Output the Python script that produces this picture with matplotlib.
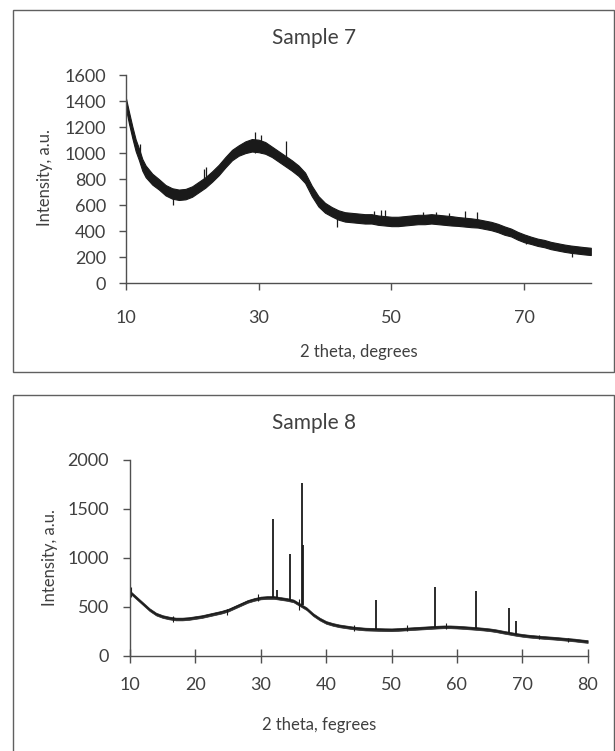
import matplotlib
matplotlib.use("Agg")
import matplotlib.pyplot as plt
from matplotlib.patches import Rectangle
import numpy as np

plt.rcParams['font.family'] = ['Lato', 'DejaVu Sans']

# ---------------- Sample 7 (amorphous pattern, noisy band) ----------------
s7_theta = [10, 10.5, 11, 11.5, 12, 12.5, 13, 14, 15, 16, 17, 18, 19, 20, 21, 22, 23, 24, 25,
            26, 27, 28, 29, 30, 31, 32, 33, 34, 35, 36, 37, 38, 39, 40, 41, 42, 43, 44,
            45, 46, 47, 48, 49, 50, 51, 52, 53, 54, 55, 56, 57, 58, 59, 60, 61, 62, 63,
            64, 65, 66, 67, 68, 69, 70, 71, 72, 73, 74, 75, 76, 77, 78, 79, 80]
s7_mid = [1390, 1270, 1160, 1060, 990, 910, 860, 800, 760, 715, 690, 680, 685, 705, 740, 775,
          820, 870, 930, 985, 1020, 1045, 1060, 1055, 1040, 1010, 975, 940, 905, 865, 810,
          710, 630, 580, 550, 525, 510, 505, 500, 495, 495, 485, 480, 475, 475, 480, 485,
          490, 490, 495, 490, 485, 480, 475, 470, 465, 460, 450, 440, 425, 405, 390, 365,
          345, 330, 315, 305, 290, 280, 270, 262, 256, 250, 245]
s7_spread = [40, 45, 45, 45, 45, 45, 45, 42, 40, 40, 40, 40, 40, 40, 40, 40, 40, 40, 40,
             40, 40, 45, 48, 48, 45, 40, 40, 40, 40, 40, 40, 40, 40, 38, 36, 36, 36, 36,
             36, 36, 36, 36, 36, 36, 36, 36, 36, 36, 36, 36, 36, 36, 36, 34, 34, 34, 32,
             32, 32, 32, 32, 30, 30, 30, 28, 28, 28, 28, 28, 28, 28, 28, 28, 28]
s7_spike_theta = [12.1, 17.1, 21.8, 22.1, 29.4, 30.3, 34.2, 41.8, 47.4, 48.4, 49.0, 54.8,
                  56.7, 58.6, 61.0, 62.9, 70.2, 77.2]
s7_spike_low = [960, 600, 760, 780, 1000, 1000, 920, 430, 480, 470, 470, 480,
                490, 480, 470, 460, 300, 205]
s7_spike_high = [1070, 700, 880, 890, 1160, 1140, 1090, 560, 558, 560, 560, 545,
                 545, 540, 553, 545, 370, 285]

# ---------------- Sample 8 (crystalline peaks on a hump) ----------------
s8_theta = list(range(10, 81))
s8_base = [650, 590, 530, 470, 425, 400, 385, 375, 375, 380, 390, 400, 415, 430, 445, 465,
           495, 525, 555, 575, 590, 595, 595, 585, 575, 560, 520, 480, 420, 375, 340, 320,
           305, 295, 285, 278, 272, 270, 268, 266, 265, 268, 272, 276, 280, 284, 288, 292,
           295, 295, 292, 288, 283, 278, 272, 265, 255, 242, 230, 218, 208, 200, 194, 188,
           183, 178, 172, 166, 160, 152, 145]
s8_peak_theta = [31.8, 32.5, 34.45, 36.3, 36.45, 47.55, 56.6, 62.9, 68.0, 69.1]
s8_peak_low = [590, 590, 560, 520, 520, 265, 290, 280, 230, 220]
s8_peak_high = [1400, 670, 1040, 1760, 1130, 570, 700, 665, 490, 350]
s8_noise_theta = [10.2, 16.5, 24.8, 29.5, 35.8, 44.2, 52.3, 58.4, 72.5, 77.0]
s8_noise_low = [600, 340, 420, 560, 470, 255, 250, 270, 170, 140]
s8_noise_high = [700, 410, 480, 630, 580, 310, 310, 330, 215, 185]

text_c = '#404040'
line_c = '#1a1a1a'
spine_c = '#505050'

fig = plt.figure(figsize=(6.15, 7.51), dpi=100)
W, H = 615.0, 751.0

def fx(px):
    return px / W

def fy(py):
    return (H - py) / H

# panel borders
fig.add_artist(Rectangle((fx(13), fy(372.3)), fx(613.5) - fx(13), fy(9.5) - fy(372.3),
                         transform=fig.transFigure, fill=False, ec='#606060', lw=1.0))
fig.add_artist(Rectangle((fx(13), -0.05), fx(613.5) - fx(13), fy(395) + 0.05,
                         transform=fig.transFigure, fill=False, ec='#606060', lw=1.0))

# ---- axes 1
ax1 = fig.add_axes([fx(125.7), fy(283.3), fx(590.8) - fx(125.7), fy(75) - fy(283.3)])
t7 = np.array(s7_theta)
m7 = np.array(s7_mid)
sp7 = np.array(s7_spread)
ax1.fill_between(t7, m7 - sp7, m7 + sp7, color=line_c, lw=0.8, ec=line_c)
ax1.plot(t7, m7, color=line_c, lw=1.0)
ax1.vlines(s7_spike_theta, s7_spike_low, s7_spike_high, color=line_c, lw=0.9)
ax1.set_xlim(10, 80)
ax1.set_ylim(0, 1600)
ax1.set_xticks([10, 30, 50, 70])
ax1.set_yticks(range(0, 1601, 200))

# ---- axes 2
ax2 = fig.add_axes([fx(130), fy(655.7), fx(587.7) - fx(130), fy(460) - fy(655.7)])
t8 = np.array(s8_theta)
b8 = np.array(s8_base)
ax2.fill_between(t8, b8 - 14, b8 + 14, color=line_c, lw=0.5, ec=line_c, alpha=0.9)
ax2.plot(t8, b8, color=line_c, lw=0.8)
ax2.vlines(s8_noise_theta, s8_noise_low, s8_noise_high, color=line_c, lw=0.8)
ax2.vlines(s8_peak_theta, s8_peak_low, s8_peak_high, color=line_c, lw=1.3)
ax2.set_xlim(10, 80)
ax2.set_ylim(0, 2000)
ax2.set_xticks(range(10, 81, 10))
ax2.set_yticks(range(0, 2001, 500))

for ax in (ax1, ax2):
    for s in ('top', 'right'):
        ax.spines[s].set_visible(False)
    for s in ('left', 'bottom'):
        ax.spines[s].set_color(spine_c)
        ax.spines[s].set_linewidth(1.0)
    ax.tick_params(axis='both', colors=spine_c, labelcolor=text_c, labelsize=13, width=1.0)
    ax.tick_params(axis='y', direction='out', length=5, pad=9)
    ax.set_facecolor('none')

ax1.tick_params(axis='x', direction='out', length=5, pad=14)
ax2.tick_params(axis='x', direction='inout', length=10, pad=10)
ax2.tick_params(axis='y', pad=10)

# titles and labels
fig.text(fx(314), fy(38), 'Sample 7', ha='center', va='center', fontsize=15, color=text_c)
fig.text(fx(314), fy(423), 'Sample 8', ha='center', va='center', fontsize=15, color=text_c)
fig.text(fx(359), fy(352), '2 theta, degrees', ha='center', va='center', fontsize=12, color=text_c)
fig.text(fx(319), fy(725), '2 theta, fegrees', ha='center', va='center', fontsize=12, color=text_c)
fig.text(fx(45), fy(178), 'Intensity, a.u.', ha='center', va='center', rotation=90,
         fontsize=12, color=text_c)
fig.text(fx(49.5), fy(558), 'Intensity, a.u.', ha='center', va='center', rotation=90,
         fontsize=12, color=text_c)

fig.savefig('out.png', dpi=100)
